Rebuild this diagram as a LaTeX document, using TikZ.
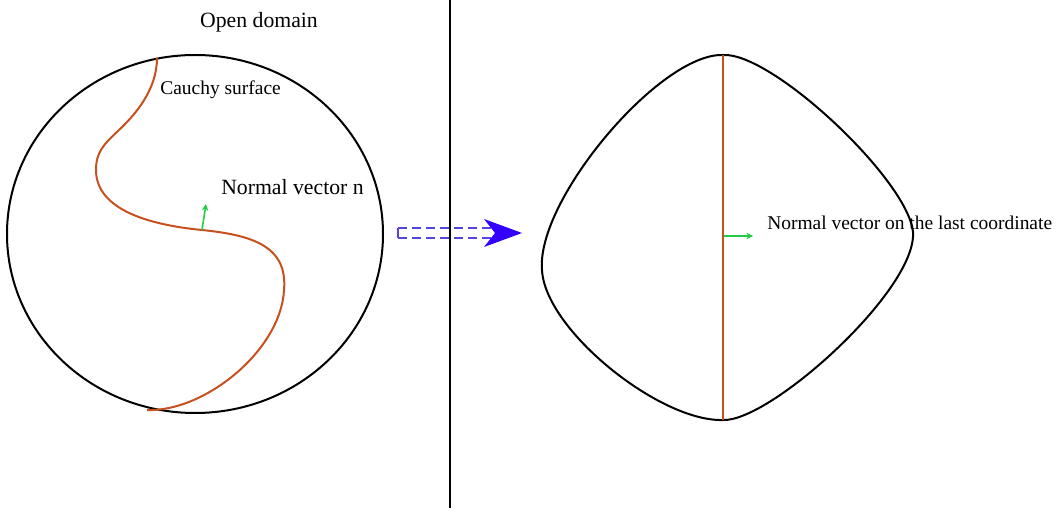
\documentclass[tikz,border=0pt]{standalone}
\usepackage{fontspec}
\setmainfont{Liberation Serif}
\usetikzlibrary{arrows.meta,shapes.geometric}
\definecolor{cauchy}{HTML}{C8501E}
\definecolor{normgreen}{HTML}{22CC44}
\definecolor{dashblue}{HTML}{5544E0}
\definecolor{headblue}{HTML}{3300FF}
\tikzset{
  outline/.style={line width=1.5pt, black},
  surf/.style={line width=1.5pt, cauchy},
  normal/.style={line width=1.2pt, normgreen, -{Stealth[length=5pt,width=5pt]}},
  lbl/.style={font=\fontsize{14.6pt}{16pt}\selectfont, inner sep=0pt},
  biglbl/.style={font=\fontsize{16.3pt}{18pt}\selectfont, inner sep=0pt},
  dashln/.style={dashblue, line width=1.3pt, dash pattern=on 7pt off 3.5pt},
}
\begin{document}
\begin{tikzpicture}[x=0.75pt,y=-0.75pt]
\useasboundingbox (0,0) rectangle (1056,516);
% divider
\coordinate (dtop) at (450,0);
\coordinate (dbot) at (450,508);
\draw[line width=1.5pt] (dtop) -- (dbot);
% left domain
\node[draw, outline, ellipse, minimum width=282pt, minimum height=268.5pt, inner sep=0pt] (dom) at (195,234) {};
\node[biglbl] (open) at (259,22) {Open domain};
\node[lbl, anchor=west] (cl) at (160,90) {Cauchy surface};
\node[biglbl, anchor=west] (nl) at (221,187) {Normal vector n};
% cauchy surface
\coordinate (c0) at (157,58);
\coordinate (cm) at (202,230);
\coordinate (c1) at (147,410);
\draw[surf] (c0) .. controls (157,90) and (135,115) .. (118,131)
  .. controls (104,144) and (96,152) .. (96,170)
  .. controls (96,210) and (150,225) .. (cm)
  .. controls (250,235) and (288,245) .. (284,290)
  .. controls (281,350) and (205,412) .. (c1);
\coordinate (ntip) at (206,204);
\draw[normal] (cm) -- (ntip);
% transform arrow
\coordinate (a1s) at (398,228);
\coordinate (a1e) at (492,228);
\coordinate (a2s) at (398,238);
\coordinate (a2e) at (492,238);
\coordinate (ah) at (522,233);
\draw[dashln] (a1s) -- (a1e);
\draw[dashln] (a2s) -- (a2e);
\draw[dashblue, line width=1.3pt] (a1s) -- (a2s);
\fill[headblue] (ah) -- (484,219) -- (495,233) -- (484,247) -- cycle;
% right domain
\coordinate (rt) at (723,55);
\coordinate (rr) at (913,232);
\coordinate (rb) at (723,420);
\coordinate (rl) at (542,270);
\draw[outline] (rt) .. controls (772,52) and (908,180) .. (rr)
  .. controls (917,290) and (770,422) .. (rb)
  .. controls (660,422) and (545,330) .. (rl)
  .. controls (536,200) and (660,53) .. (rt);
\draw[surf] (rt) -- (rb);
\coordinate (n2s) at (724,236);
\coordinate (n2e) at (753,236);
\draw[normal] (n2s) -- (n2e);
\node[lbl, anchor=west] (nl2) at (767,223) {Normal vector on the last coordinate};
\end{tikzpicture}
\end{document}
